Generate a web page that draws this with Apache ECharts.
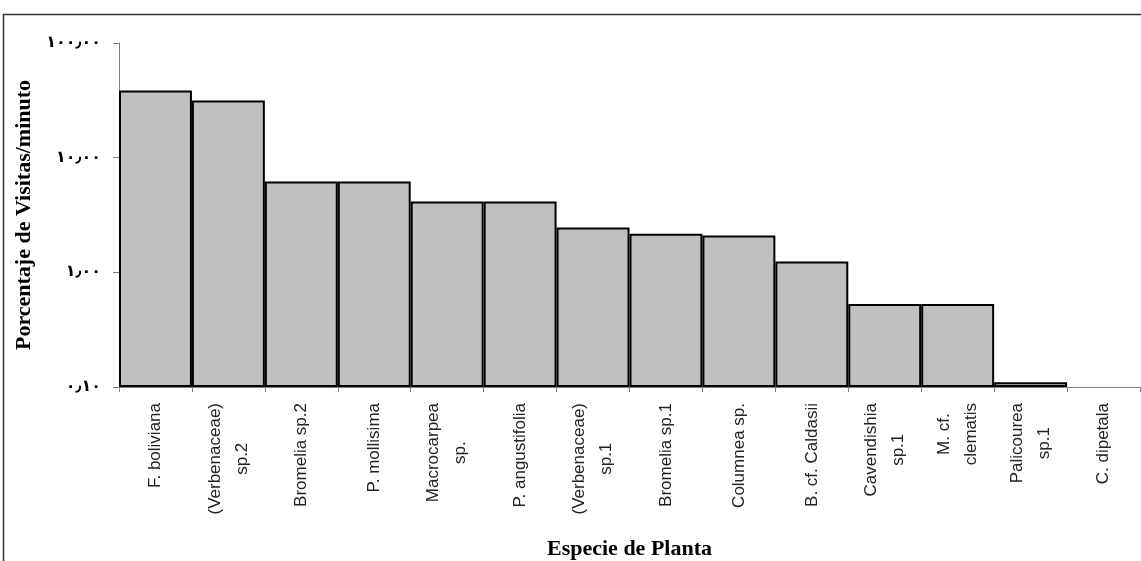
<!DOCTYPE html>
<html>
<head>
<meta charset="utf-8">
<script src="https://cdn.jsdelivr.net/npm/echarts@6/dist/echarts.min.js"></script>
<style>
  html, body { margin: 0; padding: 0; background: #fff; }
  #chart { width: 1141px; height: 561px; }
</style>
</head>
<body>
<div id="chart"></div>
<script>
// Plant species (category axis), line breaks as printed under each bar
const species = [
  'F. boliviana',
  '(Verbenaceae)\nsp.2',
  'Bromelia sp.2',
  'P. mollisima',
  'Macrocarpea\nsp.',
  'P. angustifolia',
  '(Verbenaceae)\nsp.1',
  'Bromelia sp.1',
  'Columnea sp.',
  'B. cf. Caldasii',
  'Cavendishia\nsp.1',
  'M. cf.\nclematis',
  'Palicourea\nsp.1',
  'C. dipetala'
];

// Percentage of visits per minute for each species (C. dipetala has none)
const visitPercent = [38.5, 31.5, 6.2, 6.2, 4.15, 4.15, 2.46, 2.17, 2.1, 1.24, 0.53, 0.53, 0.11, null];

// Log-axis tick values and their printed labels
const tickValues = [0.1, 1, 10, 100];
const tickLabels = ['٠٫١٠', '١٫٠٠', '١٠٫٠٠', '١٠٠٫٠٠'];

const chart = echarts.init(document.getElementById('chart'), null, { renderer: 'canvas' });

function tickLabelFor(v) {
  let best = 0, bestD = Infinity;
  tickValues.forEach((t, i) => {
    const d = Math.abs(Math.log10(v) - Math.log10(t));
    if (d < bestD) { bestD = d; best = i; }
  });
  return bestD < 0.01 ? tickLabels[best] : '';
}

const option = {
  animation: false,
  backgroundColor: '#ffffff',
  graphic: [{
    type: 'rect',
    shape: { x: 3.5, y: 14.5, width: 1200, height: 700 },
    style: { fill: 'none', stroke: '#333', lineWidth: 1.5 },
    silent: true,
    z: -1
  }],
  grid: {
    left: 119,
    right: 1,
    top: 43,
    bottom: 174,
    containLabel: false,
    outerBoundsMode: 'none'
  },
  xAxis: {
    type: 'category',
    data: species,
    boundaryGap: true,
    name: 'Especie de Planta',
    nameLocation: 'middle',
    nameGap: 151,
    nameTextStyle: {
      fontFamily: 'Liberation Serif',
      fontWeight: 'bold',
      fontSize: 22,
      color: '#000'
    },
    axisLine: { lineStyle: { color: '#808080', width: 1 } },
    axisTick: { show: true, alignWithLabel: false, length: 5, lineStyle: { color: '#808080' } },
    axisLabel: {
      interval: 0,
      rotate: 90,
      margin: 16,
      formatter: function (v) {
        return v.split('\n').map(l => '{c|' + l + '}').join('\n');
      },
      rich: {
        c: {
          align: 'center',
          fontFamily: 'Liberation Sans',
          fontSize: 17,
          lineHeight: 27,
          color: '#222'
        }
      }
    },
    splitLine: { show: false }
  },
  yAxis: {
    type: 'log',
    logBase: 10,
    min: 0.1,
    max: 100,
    startValue: 0.1,
    name: 'Porcentaje de Visitas/minuto',
    nameLocation: 'middle',
    nameGap: 82,
    nameRotate: 90,
    nameTextStyle: {
      fontFamily: 'Liberation Serif',
      fontWeight: 'bold',
      fontSize: 22,
      color: '#000'
    },
    axisLine: { show: true, lineStyle: { color: '#808080', width: 1 } },
    axisTick: { show: true, inside: false, length: 6, lineStyle: { color: '#808080' } },
    axisLabel: {
      margin: 18,
      fontFamily: 'DejaVu Sans',
      fontWeight: 'bold',
      fontSize: 16,
      color: '#000',
      formatter: tickLabelFor
    },
    splitLine: { show: false },
    minorTick: { show: false }
  },
  series: [{
    type: 'bar',
    data: visitPercent,
    barCategoryGap: '0%',
    barGap: '0%',
    itemStyle: {
      color: '#c0c0c0',
      borderColor: '#000',
      borderWidth: 2
    },
    label: { show: false }
  }]
};

chart.setOption(option);
</script>
</body>
</html>
